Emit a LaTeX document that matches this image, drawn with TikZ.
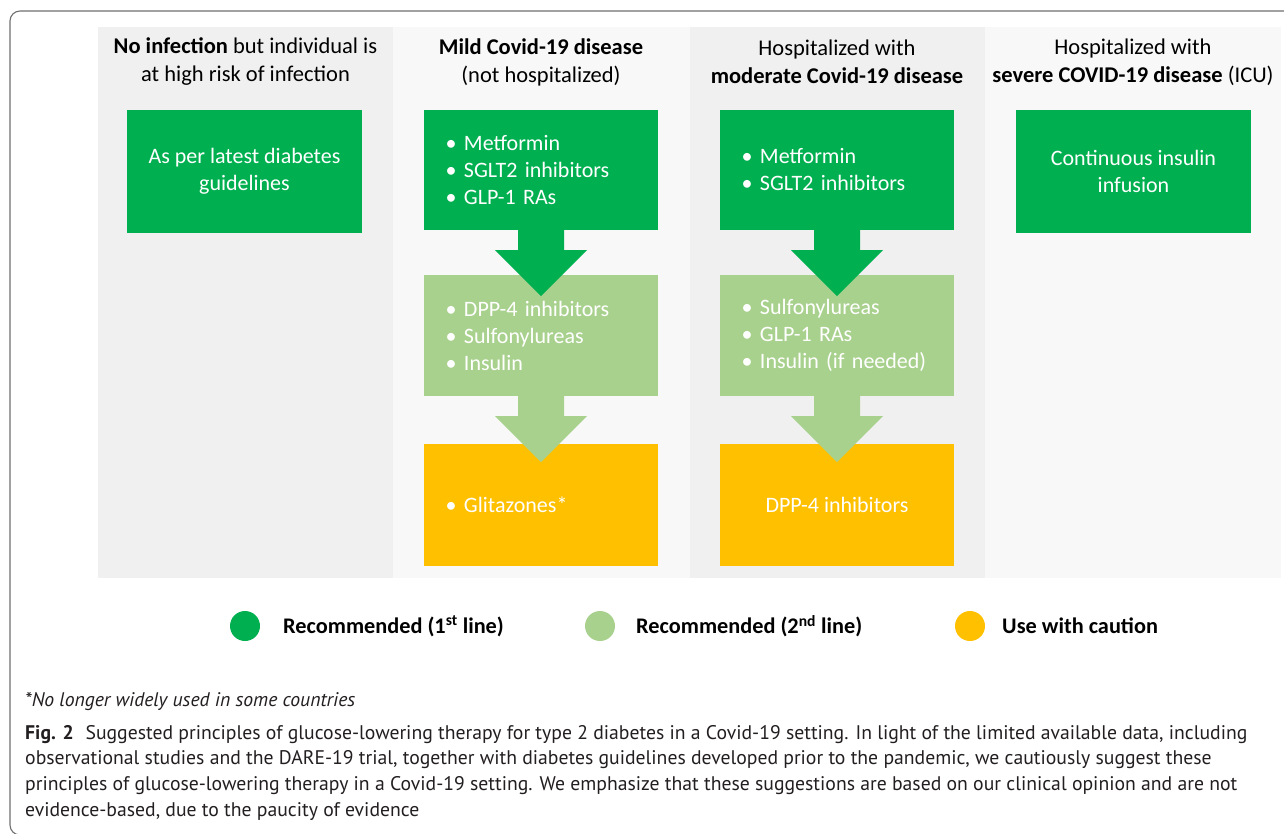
\documentclass[tikz,border=0pt]{standalone}
\usepackage{fontspec}
\setmainfont{Carlito}
\newfontfamily\capfont{PT Sans}
\usetikzlibrary{calc}
\definecolor{dg}{HTML}{00B050}
\definecolor{lg}{HTML}{A9D18E}
\definecolor{og}{HTML}{FFC000}
\definecolor{bgA}{HTML}{F0F0F0}
\definecolor{bgB}{HTML}{F8F8F8}
\definecolor{framec}{HTML}{707070}
\definecolor{capc}{HTML}{231F20}
\newcommand\bl[1]{\makebox[17pt][l]{\hspace{-1.5pt}\textbullet}#1}
\newcommand\dnarrow[2]{%
  \fill[#2] ($(#1.south)+(-23,0)$) -- ($(#1.south)+(23,0)$) -- ++(0,20) -- ++(23,0)
    -- ($(#1.south)+(0,66)$) -- ($(#1.south)+(-46,20)$) -- ++(23,0) -- cycle;}
\begin{document}
\begin{tikzpicture}[x=1pt,y=-1pt,
  box/.style={inner sep=0pt, text=white, font=\fontsize{22}{27}\selectfont, minimum width=234pt},
  boxc/.style={box, align=center},
  boxl/.style={box, align=left, text width=188pt, inner xsep=23pt, inner ysep=0pt},
  title/.style={inner sep=0pt, align=center, font=\fontsize{22.5}{28}\selectfont, text=black},
  legtext/.style={anchor=west, inner sep=0pt, font=\bfseries\fontsize{22.3}{26}\selectfont},
  legdot/.style={circle, inner sep=0pt, minimum size=30pt},
  capline/.style={anchor=base west, inner sep=0pt, font=\capfont\fontsize{19.7}{22}\selectfont, text=capc}
]
\useasboundingbox (0,0) rectangle (1284,833);
\fill[white] (0,0) rectangle (1284,833);
\begin{scope}
\clip (0,0) rectangle (1284,833);
\draw[framec, line width=1.1pt, rounded corners=10pt] (1300,11) -- (10,11) -- (10,835) -- (1300,835);
\end{scope}
% column backgrounds
\fill[bgA] (98,27) rectangle (393,578);
\fill[bgB] (393,27) rectangle (690,578);
\fill[bgA] (690,27) rectangle (985,578);
\fill[bgB] (985,27) rectangle (1281,578);
% titles
\node[title] (t1) at (245.5,62) {\textbf{No infection} but individual is\\at high risk of infection};
\node[title] (t2) at (541,62) {\textbf{Mild Covid-19 disease}\\(not hospitalized)};
\node[title] (t3) at (837,62) {Hospitalized with\\\textbf{moderate Covid-19 disease}};
\node[title] (t4) at (1133,62) {Hospitalized with\\\textbf{severe COVID-19 disease} (ICU)};
% column 1
\node[boxc, fill=dg, minimum width=235pt, minimum height=123pt] (a1) at (244.5,171.5) {As per latest diabetes\\guidelines};
% column 2
\node[boxl, fill=dg, minimum height=120pt] (g2) at (541,170) {\bl{Metformin}\\\bl{SGLT2 inhibitors}\\\bl{GLP-1 RAs}};
\node[boxl, fill=lg, minimum height=121pt] (l2) at (541,335.5) {\bl{DPP-4 inhibitors}\\\bl{Sulfonylureas}\\\bl{Insulin}};
\node[boxl, fill=og, minimum height=122pt] (o2) at (541,505) {\bl{Glitazones*}};
% column 3
\node[boxl, fill=dg, minimum height=120pt] (g3) at (837,170) {\bl{Metformin}\\\bl{SGLT2 inhibitors}};
\node[boxl, fill=lg, minimum height=121pt] (l3) at (837,335.5) {\bl{Sulfonylureas}\\\bl{GLP-1 RAs}\\\bl{Insulin (if needed)}};
\node[boxc, fill=og, minimum height=122pt] (o3) at (837,505) {DPP-4 inhibitors};
% column 4
\node[boxc, fill=dg, minimum width=235pt, minimum height=123pt] (a4) at (1133.5,171.5) {Continuous insulin\\infusion};
% arrows
\dnarrow{g2}{dg}
\dnarrow{l2}{lg}
\dnarrow{g3}{dg}
\dnarrow{l3}{lg}
% legend
\node[legdot, fill=dg] (d1) at (245,626) {};
\node[legtext] (e1) at (283,626) {Recommended (1\textsuperscript{st} line)};
\node[legdot, fill=lg] (d2) at (600,626) {};
\node[legtext] (e2) at (636,626) {Recommended (2\textsuperscript{nd} line)};
\node[legdot, fill=og] (d3) at (970,626) {};
\node[legtext] (e3) at (1002,626) {Use with caution};
% caption
\node[capline] (fn) at (25,706) {\itshape *No longer widely used in some countries};
\node[capline] (c1) at (25,739) {\textbf{Fig. 2}\hspace{0.6em}Suggested principles of glucose-lowering therapy for type 2 diabetes in a Covid-19 setting. In light of the limited available data, including};
\node[capline] (c2) at (25,764) {observational studies and the DARE-19 trial, together with diabetes guidelines developed prior to the pandemic, we cautiously suggest these};
\node[capline] (c3) at (25,790) {principles of glucose-lowering therapy in a Covid-19 setting. We emphasize that these suggestions are based on our clinical opinion and are not};
\node[capline] (c4) at (25,816) {evidence-based, due to the paucity of evidence};
\end{tikzpicture}
\end{document}
